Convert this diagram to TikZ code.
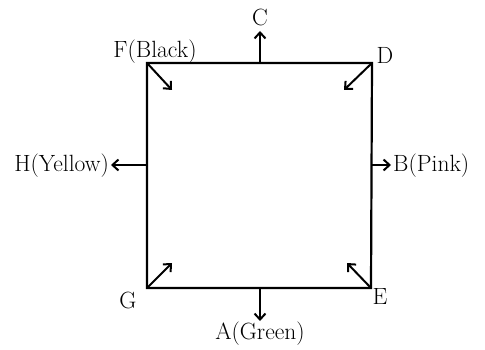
\documentclass[tikz,border=0pt]{standalone}
\usetikzlibrary{arrows.meta}
\begin{document}
\begin{tikzpicture}[x=1pt,y=-1pt,
  edge/.style={line width=2.2pt},
  arr/.style={line width=2pt,-{Straight Barb[length=6pt,width=11pt,line width=2pt]}},
  lbl/.style={font=\fontsize{23.5}{26}\selectfont,inner sep=0pt}]
\useasboundingbox (0,0) rectangle (485,350);
\coordinate (TL) at (147,63);
\coordinate (TR) at (372,63);
\coordinate (BR) at (371,288);
\coordinate (BL) at (147,288);
\draw[edge] (TL) -- (TR) -- (BR) -- (BL) -- cycle;
% mid points
\coordinate (Tm) at (260,63);
\coordinate (Bm) at (260,288);
\coordinate (Lm) at (147,165);
\coordinate (Rm) at (372,165);
\coordinate (Ce) at (260,31);
\coordinate (Ae) at (260,321);
\coordinate (He) at (111,165);
\coordinate (Be) at (391,165);
\draw[arr] (Tm) -- (Ce);
\draw[arr] (Bm) -- (Ae);
\draw[arr] (Lm) -- (He);
\draw[arr] (Rm) -- (Be);
% corner arrows
\coordinate (Fe) at (172,90);
\coordinate (De) at (344,90);
\coordinate (Ge) at (172,263);
\coordinate (Ee) at (347,263);
\draw[arr] (TL) -- (Fe);
\draw[arr] (TR) -- (De);
\draw[arr] (BL) -- (Ge);
\draw[arr] (BR) -- (Ee);
% labels
\node[lbl] (C) at (260,17) {C};
\node[lbl] (A) at (260,334) {A(Green)};
\node[lbl,anchor=east] (H) at (109,166) {H(Yellow)};
\node[lbl,anchor=west] (B) at (393,166) {B(Pink)};
\node[lbl] (F) at (155,52) {F(Black)};
\node[lbl] (D) at (385,55) {D};
\node[lbl] (G) at (128,300) {G};
\node[lbl] (E) at (380,296) {E};
\end{tikzpicture}
\end{document}
